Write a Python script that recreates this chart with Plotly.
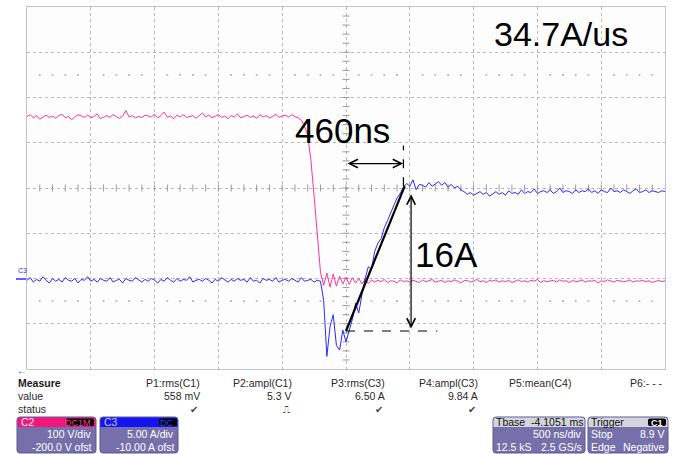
import plotly.graph_objects as go

# ---------------- data ----------------
SAMPLE_NS = 25                      # spacing of the displayed samples, ns

# C2 (pink) : volts
C2_VOLTS = [
    358, 362, 355, 360, 352, 357, 361, 356, 359, 354, 360, 363, 355, 358, 351, 357, 362, 359, 356, 361,
    355, 358, 364, 353, 357, 360, 356, 362, 358, 354, 359, 371, 357, 360, 355, 358, 356, 361, 359, 357,
    363, 355, 360, 368, 356, 359, 353, 361, 357, 362, 356, 358, 360, 354, 359, 366, 357, 361, 355, 358,
    362, 356, 359, 353, 360, 357, 364, 355, 358, 361, 356, 359, 354, 362, 357, 360, 355, 358, 363, 356,
    359, 361, 357, 362, 358, 355,
    350, 336, 317, 261, 182, 102, 14,
    -15, 12, -19, 10, -17, 5, -12, 3, -13, 2, -10, 0, -12, -1, -11, -3,
    -8, -4, -7, -2, -9, -5, -6, -10, -3, -7, -5, -8, -4, -6, -9, -3, -7, -5, -2, -8,
    -6, -4, -9, -5, -7, -3, -6, -10, -5, -4, -8, -6, -2, -7, -5, -9, -4, -6, -3, -8,
    -5, -7, -4, -9, -6, -3, -7, -5, -8, -4, -6, -2, -9, -5, -7, -6, -4, -8, -3, -6,
    -5, -9, -4, -7, -6, -3, -8, -5, -6, -4, -10, -5, -7, -3, -6, -8, -4, -5, -7, -6,
    -3, -8, -5, -6, -4, -7, -5, -9, -6, -4, -7, -5,
]

# C3 (blue) : amps
C3_AMPS = [
    -0.2, 0.1, -0.4, -0.1, -0.3, 0.2, -0.2, -0.5, 0.0, -0.3, -0.1, -0.4, 0.1, -0.2, -0.3, 0.0, -0.5, -0.1, -0.2, 0.2,
    -0.3, -0.1, -0.4, 0.0, -0.2, -0.3, 0.1, -0.4, -0.2, -0.1, -0.5, 0.0, -0.2, -0.3, 0.1, -0.2, -0.4, -0.1, -0.3, 0.0,
    -0.2, -0.5, -0.1, -0.3, 0.1, -0.2, -0.4, 0.0, -0.3, -0.1, -0.2, 0.2, -0.4, -0.2, -0.1, -0.3, 0.0, -0.2, -0.5, -0.1,
    -0.3, 0.1, -0.2, -0.4, -0.1, -0.3, 0.0, -0.2, -0.1, -0.4, 0.1, -0.3, -0.2, -0.5, 0.0, -0.2, -0.1, -0.3, 0.1, -0.4,
    -0.2, -0.1, -0.3, 0.0, -0.2, -0.4, 0.1, -0.3, -0.2, -0.1, -0.4, -0.2, -0.3,
    -2.4, -8.6, -5.3, -4.0, -7.4, -7.9, -5.7, -7.0, -5.6, -4.5, -2.7, -3.8, -1.8, 0.0, 1.3, 1.0,
    3.0, 3.9, 4.4, 5.6, 6.4, 7.3, 8.0, 8.9, 9.4, 10.1, 10.5, 10.2, 10.9, 9.8, 10.4,
    10.3, 10.1, 10.6, 10.2, 10.5, 10.7, 10.3, 10.6, 10.1, 10.4, 10.0, 10.2, 9.8,
    9.6, 9.3, 9.5, 9.2, 9.4, 9.6, 9.3, 9.5, 9.1, 9.4, 9.6, 9.3, 9.5, 9.2, 9.7, 9.4, 9.5, 9.3, 9.8, 9.4,
    9.6, 9.5, 9.9, 9.4, 9.6, 9.7, 9.5, 9.8, 9.4, 9.6, 10.0, 9.5, 9.7, 9.6, 9.4, 9.8, 9.5, 9.7, 9.6, 9.9,
    9.5, 9.7, 9.4, 9.8, 9.6, 9.5, 10.0, 9.6, 9.7, 9.5, 9.8, 9.6, 9.4, 9.7, 9.9, 9.5, 9.6, 9.8, 9.5, 9.7,
    9.6, 9.5, 9.7, 9.6,
]

# scope settings
TIME_PER_DIV_NS = 500
C2_V_PER_DIV, C2_OFFSET_V = 100.0, -200.0
C3_A_PER_DIV, C3_OFFSET_A = 5.0, -10.0
N_XDIV, N_YDIV = 10, 8

# di/dt cursor annotation
RAMP_T0_NS, RAMP_T1_NS = 2500, 2960
RAMP_I0_A, RAMP_I1_A = -5.8, 10.2
TIME_ARROW_I_A = 12.7
TIME_DASH_TOP_A = 14.7
CURR_ARROW_T_NS = 3010
CURR_ARROW_TOP_A = 9.3
CURR_DASH_END_NS = 3215
LABEL_TIME = "460ns"
LABEL_CURRENT = "16A"
LABEL_SLOPE = "34.7A/us"

# measurement table
MEASURE_NAMES = ["P1:rms(C1)", "P2:ampl(C1)", "P3:rms(C3)", "P4:ampl(C3)", "P5:mean(C4)", "P6:- - -"]
MEASURE_VALUES = ["558 mV", "5.3 V", "6.50 A", "9.84 A", "", ""]
MEASURE_STATUS = ["✔", "⎍", "✔", "✔", "", ""]

# ---------------- layout geometry ----------------
W, H = 683, 454
L, R, T, B = 27, 665, 7, 369          # plot-area pixel bounds
FONT = "Liberation Sans, Arial, sans-serif"
PINK = "#ff3399"
BLUE = "#2b2bff"
GRID = "#b8b8b8"


def px(x):
    return (x - L) / (R - L)


def py(y):
    return (B - y) / (B - T)


t_c2 = [i * SAMPLE_NS for i in range(len(C2_VOLTS))]
t_c3 = [i * SAMPLE_NS for i in range(len(C3_AMPS))]

x_range = [0, N_XDIV * TIME_PER_DIV_NS]
c2_center = -C2_OFFSET_V
c3_center = -C3_OFFSET_A
y_range = [c2_center - N_YDIV / 2 * C2_V_PER_DIV, c2_center + N_YDIV / 2 * C2_V_PER_DIV]
y2_range = [c3_center - N_YDIV / 2 * C3_A_PER_DIV, c3_center + N_YDIV / 2 * C3_A_PER_DIV]

fig = go.Figure()

# graticule decorations: minor ticks on the centre cross and dotted rows
sub_t = [k * TIME_PER_DIV_NS / 5 for k in range(1, N_XDIV * 5)]
sub_v = [y_range[0] + k * C2_V_PER_DIV / 5 for k in range(1, N_YDIV * 5)]
fig.add_trace(go.Scatter(x=sub_t, y=[c2_center] * len(sub_t), mode="markers",
                         marker=dict(symbol="line-ns", size=5, line=dict(width=1, color="#9a9a9a")),
                         hoverinfo="skip", showlegend=False))
fig.add_trace(go.Scatter(x=[x_range[1] / 2] * len(sub_v), y=sub_v, mode="markers",
                         marker=dict(symbol="line-ew", size=5, line=dict(width=1, color="#9a9a9a")),
                         hoverinfo="skip", showlegend=False))
dot_t = [t for t in sub_t if t % TIME_PER_DIV_NS != 0]
for row_div in (1.5, 6.5):
    v = y_range[0] + row_div * C2_V_PER_DIV
    fig.add_trace(go.Scatter(x=dot_t, y=[v] * len(dot_t), mode="markers",
                             marker=dict(symbol="square", size=1.6, color="#a8a8a8"),
                             hoverinfo="skip", showlegend=False))

# traces
fig.add_trace(go.Scatter(x=t_c2, y=C2_VOLTS, mode="lines", line=dict(color=PINK, width=1),
                         name="C2", showlegend=False, yaxis="y"))
fig.add_trace(go.Scatter(x=t_c3, y=C3_AMPS, mode="lines", line=dict(color=BLUE, width=1),
                         name="C3", showlegend=False, yaxis="y2"))
# slope line
fig.add_trace(go.Scatter(x=[RAMP_T0_NS, RAMP_T1_NS], y=[RAMP_I0_A, RAMP_I1_A], mode="lines",
                         line=dict(color="black", width=2.2), showlegend=False, yaxis="y2",
                         hoverinfo="skip"))

shapes = []
# dashed cursor helpers
shapes.append(dict(type="line", xref="x", yref="y2", x0=RAMP_T1_NS - 10, x1=RAMP_T1_NS - 10,
                   y0=RAMP_I1_A, y1=TIME_DASH_TOP_A, line=dict(color="black", width=1.2, dash="dash")))
shapes.append(dict(type="line", xref="x", yref="y2", x0=RAMP_T0_NS, x1=CURR_DASH_END_NS,
                   y0=RAMP_I0_A, y1=RAMP_I0_A, line=dict(color="black", width=1.2, dash="dash")))
# C3 ground marker
shapes.append(dict(type="line", xref="paper", yref="paper", x0=px(16), x1=px(26), y0=py(279), y1=py(279),
                   line=dict(color=BLUE, width=1.5)))


def rrect(x0, y0, x1, y1, r, fill, line=None, top_only=False):
    def P(x, y):
        return f"{px(x):.5f},{py(y):.5f}"
    if top_only:
        d = (f"M{P(x0, y1)} L{P(x0, y0 + r)} Q{P(x0, y0)} {P(x0 + r, y0)} L{P(x1 - r, y0)} "
             f"Q{P(x1, y0)} {P(x1, y0 + r)} L{P(x1, y1)} Z")
    else:
        d = (f"M{P(x0 + r, y0)} L{P(x1 - r, y0)} Q{P(x1, y0)} {P(x1, y0 + r)} L{P(x1, y1 - r)} "
             f"Q{P(x1, y1)} {P(x1 - r, y1)} L{P(x0 + r, y1)} Q{P(x0, y1)} {P(x0, y1 - r)} "
             f"L{P(x0, y0 + r)} Q{P(x0, y0)} {P(x0 + r, y0)} Z")
    return dict(type="path", xref="paper", yref="paper", path=d, fillcolor=fill,
                line=dict(color=line or fill, width=1 if line else 0), layer="above")


BODY = "#7570aa"
BODY_LINE = "#5d5893"
HEAD_GRAY = "#d4d4dc"
boxes = [  # x0, x1, header colour
    (17, 96, "#f0187a"),
    (100, 178, "#1414f2"),
    (493, 585, HEAD_GRAY),
    (588, 668, HEAD_GRAY),
]
for x0, x1, hc in boxes:
    shapes.append(rrect(x0, 417, x1, 453, 3, BODY, BODY_LINE))
    shapes.append(rrect(x0 + 0.5, 417.5, x1 - 0.5, 427, 3, hc, top_only=True))
# black tags
shapes.append(rrect(66, 418.5, 94, 426, 2, "black"))
shapes.append(rrect(159, 418.5, 177, 426, 2, "black"))
shapes.append(rrect(648, 418.5, 666, 426, 2, "black"))

ann = []


def text(x, y, s, anchor="left", color="#2a2a2a", size=10.5, bold=False, family=FONT):
    ann.append(dict(xref="paper", yref="paper", x=px(x), y=py(y), text=f"<b>{s}</b>" if bold else s,
                    showarrow=False, xanchor=anchor, yanchor="middle",
                    font=dict(family=family, size=size, color=color)))


# big labels
ann.append(dict(xref="x", yref="y2", x=2470, y=16.4, text=LABEL_TIME, showarrow=False,
                xanchor="center", yanchor="middle", font=dict(family=FONT, size=35, color="black")))
ann.append(dict(xref="x", yref="y2", x=3285, y=2.7, text=LABEL_CURRENT, showarrow=False,
                xanchor="center", yanchor="middle", font=dict(family=FONT, size=35, color="black")))
text(561, 34, LABEL_SLOPE, anchor="center", color="black", size=34)

# arrows
ann.append(dict(xref="x", yref="y2", axref="x", ayref="y2", x=RAMP_T1_NS - 12, y=TIME_ARROW_I_A,
                ax=RAMP_T0_NS, ay=TIME_ARROW_I_A, text="", showarrow=True, arrowside="end+start",
                arrowhead=5, startarrowhead=5, arrowsize=1.4, startarrowsize=1.4, arrowwidth=1.2,
                arrowcolor="black"))
ann.append(dict(xref="x", yref="y2", axref="x", ayref="y2", x=CURR_ARROW_T_NS, y=CURR_ARROW_TOP_A,
                ax=CURR_ARROW_T_NS, ay=RAMP_I0_A + 0.1, text="", showarrow=True, arrowside="end+start",
                arrowhead=5, startarrowhead=5, arrowsize=1.4, startarrowsize=1.4, arrowwidth=1.2,
                arrowcolor="black"))

# channel marker / arrow
text(16, 270, "C3", color=BLUE, size=7)
text(22, 370, "←", anchor="center", color=BLUE, size=10)

# measurement table
col_right = [202, 294, 387, 480, 573, 665]
rows_y = [383, 396, 409]
text(16, rows_y[0], "Measure", bold=True, color="#1a1a1a")
text(16, rows_y[1], "value")
text(16, rows_y[2], "status")
for xr, nm, val, st in zip(col_right, MEASURE_NAMES, MEASURE_VALUES, MEASURE_STATUS):
    text(xr, rows_y[0], nm, anchor="right")
    if val:
        text(xr, rows_y[1], val, anchor="right")
    if st:
        text(xr - 2, rows_y[2], st, anchor="right", color="#444444", size=10,
             family="DejaVu Sans, sans-serif")

# channel boxes
WH = "white"
text(19, 422, "C2", color="#ffe6f2", size=10.5)
text(93, 422.5, "DC1M", anchor="right", color="#ff3d9e", size=9)
text(94, 434, "100 V/div", anchor="right", color=WH)
text(94, 446.5, "-200.0 V ofst", anchor="right", color=WH)
text(102, 422, "C3", color="#c8c8ff", size=10.5)
text(176, 422.5, "DC", anchor="right", color="#3a3aff", size=9)
text(176, 434, "5.00 A/div", anchor="right", color=WH)
text(176, 446.5, "-10.00 A ofst", anchor="right", color=WH)
# timebase
text(494, 422, "Tbase", color="#111111")
text(586, 422, "-4.1051 ms", anchor="right", color="#111111")
text(584, 434, "500 ns/div", anchor="right", color=WH)
text(494, 446.5, "12.5 kS", color=WH)
text(584, 446.5, "2.5 GS/s", anchor="right", color=WH)
# trigger
text(589, 422, "Trigger", color="#111111")
text(665, 422.5, "C1", anchor="right", color=WH, size=9, bold=True)
text(589, 434, "Stop", color=WH)
text(667, 434, "8.9 V", anchor="right", color=WH)
text(589, 446.5, "Edge", color=WH)
text(667, 446.5, "Negative", anchor="right", color=WH)

axis_common = dict(showticklabels=False, ticks="", zeroline=False, showgrid=True,
                   gridcolor=GRID, griddash="dot", gridwidth=1,
                   showline=True, mirror=True, linecolor="#c4c4c4", linewidth=1)

fig.update_layout(
    width=W, height=H,
    margin=dict(l=L, r=W - R, t=T, b=H - B, pad=0),
    paper_bgcolor="white", plot_bgcolor="#fdfdfd",
    xaxis=dict(range=x_range, dtick=TIME_PER_DIV_NS, tick0=0, **axis_common),
    yaxis=dict(range=y_range, dtick=C2_V_PER_DIV, tick0=y_range[0], **axis_common),
    yaxis2=dict(range=y2_range, overlaying="y", visible=False),
    shapes=shapes, annotations=ann, showlegend=False,
    font=dict(family=FONT),
)

fig.write_html(
    "out.html",
    config={"displayModeBar": False},
    post_script="document.body.style.margin='0';document.body.style.padding='0';"
                "document.body.style.overflow='hidden';",
)
